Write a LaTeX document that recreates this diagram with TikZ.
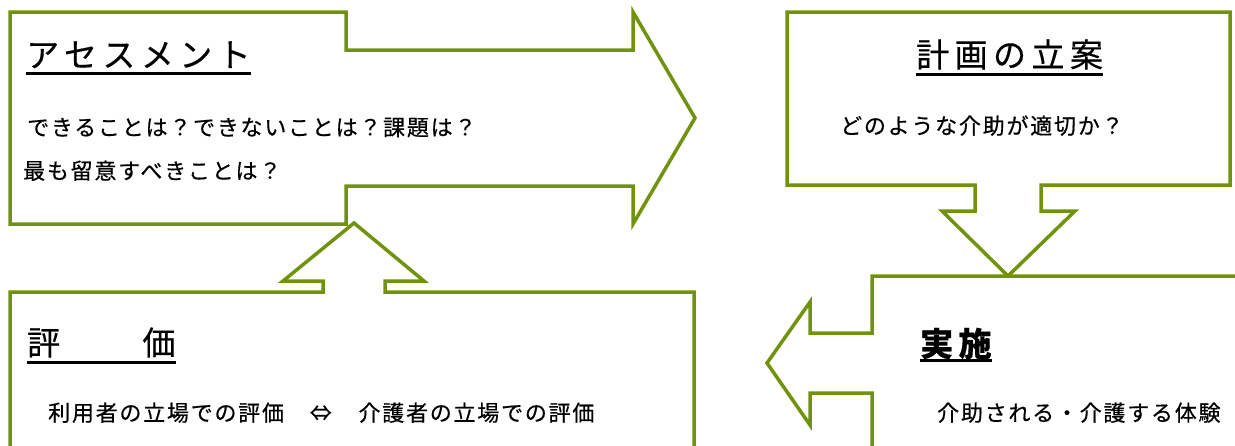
\documentclass[tikz,border=0pt]{standalone}
\usepackage{fontspec}
\newfontfamily\jpT[LetterSpace=16.5,FakeBold=0.4]{Noto Sans CJK JP}
\newfontfamily\jpB[LetterSpace=8,FakeBold=0.5]{Noto Sans CJK JP}
\definecolor{olive}{RGB}{112,146,12}
\tikzset{
  shapeline/.style={draw=olive, line width=3.5pt, line join=miter, fill=white},
  ttl/.style={anchor=base west, inner sep=0pt, font=\jpT\fontsize{33}{33}\selectfont},
  body/.style={anchor=base west, inner sep=0pt, font=\jpB\fontsize{22}{22}\selectfont},
  uline/.style={line width=3pt, black},
}
\begin{document}
\begin{tikzpicture}[x=1pt,y=-1pt]
\useasboundingbox (0,0) rectangle (1235,445);
\clip (0,0) rectangle (1235,445);
% Assessment arrow (right)
\draw[shapeline] (10,12) -- (346,12) -- (346,50) -- (633,50) -- (633,12) -- (695,118)
  -- (633,224) -- (633,186) -- (346,186) -- (346,224) -- (10,224) -- cycle;
% Planning box with down arrow
\draw[shapeline] (787,12) -- (1230,12) -- (1230,185) -- (1041,185) -- (1041,211) -- (1075,211)
  -- (1008,276) -- (942,211) -- (975,211) -- (975,185) -- (787,185) -- cycle;
% Implementation box with left arrow
\draw[shapeline] (1250,276) -- (872,276) -- (872,333) -- (810,333) -- (810,302) -- (767,363)
  -- (810,425) -- (810,393) -- (872,393) -- (872,460);
% Evaluation box with up arrow
\draw[shapeline] (10,460) -- (10,292) -- (323,292) -- (323,281) -- (283,281) -- (354,223)
  -- (424,281) -- (385,281) -- (385,292) -- (694,292) -- (694,460);
% Titles
\node[ttl] (t1) at (26,67) {アセスメント};
\node[ttl] (t2) at (916,67) {計画の立案};
\node[ttl] (t3) at (27,355) {評　　価};
\node[ttl, font=\jpT\bfseries\fontsize{33}{33}\selectfont] (t4) at (920,356) {実施};
\draw[uline] ([yshift=-6.5pt]t1.base west) -- ([yshift=-6.5pt]t1.base east);
\draw[uline] ([yshift=-7pt]t2.base west) -- ([yshift=-7pt]t2.base east);
\draw[uline] ([yshift=-7pt]t3.base west) -- ([yshift=-7pt]t3.base east);
\draw[uline] ([yshift=-4pt]t4.base west) -- ([yshift=-4pt]t4.base east);
% Body texts
\node[body] (b1) at (27,135.5) {できることは？できないことは？課題は？};
\node[body] (b2) at (23,179) {最も留意すべきことは？};
\node[body] (b3) at (840,134) {どのような介助が適切か？};
\node[body] (b4) at (937,421) {介助される・介護する体験};
\node[body] (b5) at (48,421) {利用者の立場での評価\kern2pt　⇔　\kern3pt介護者の立場での評価};
\end{tikzpicture}
\end{document}
